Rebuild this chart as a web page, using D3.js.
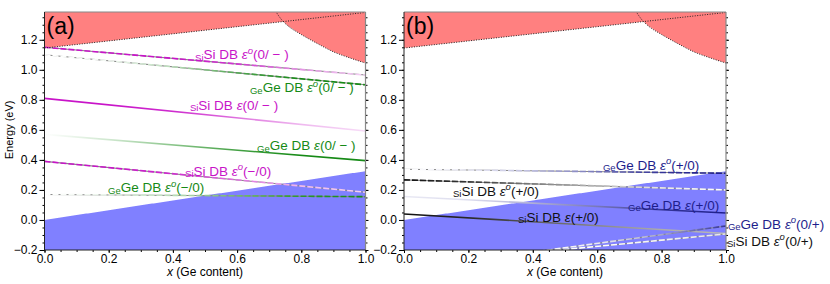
<!DOCTYPE html>
<html>
<head>
<meta charset="utf-8">
<script src="https://cdn.jsdelivr.net/npm/d3@7"></script>
<style>
  body { margin: 0; background: #fff; }
  svg { font-family: "Liberation Sans", Arial, sans-serif; }
</style>
</head>
<body>
<div id="chart"></div>
<script>
// axis ticks
const xTicks = [0, 0.2, 0.4, 0.6, 0.8, 1.0];
const yTicks = [-0.2, 0, 0.2, 0.4, 0.6, 0.8, 1.0, 1.2];

// band edges vs Ge content
const vbmX = [0, 1];
const vbmE = [0.0, 0.325];
const deltaX = [0, 1];
const deltaE = [1.145, 1.382];
const lX = [0.72, 0.74, 0.76, 0.80, 0.85, 0.90, 0.95, 1.0];
const lE = [1.39, 1.33, 1.29, 1.235, 1.175, 1.12, 1.08, 1.045];

// where along x the colour weight of each level is read
const wX = [0, 0.2, 0.4, 0.6, 0.8, 1.0];

// panel (a): acceptor-like levels
const aHost = ["Si", "Ge", "Si", "Ge", "Si", "Ge"];
const aOpt = [true, true, false, false, true, true];
const aTrans = ["(0/ \u2212 )", "(0/ \u2212 )", "(0/ \u2212 )", "(0/ \u2212 )", "(\u2212/0)", "(\u2212/0)"];
const aE0 = [1.15, 1.10, 0.81, 0.57, 0.39, 0.17];
const aE1 = [0.965, 0.90, 0.593, 0.395, 0.185, 0.155];
const aWeight = [
  [1, 1, 1, 0.85, 0.45, 0.2],
  [0, 0.05, 0.3, 0.75, 1, 1],
  [1, 1, 0.9, 0.6, 0.3, 0.15],
  [0, 0.2, 0.5, 0.8, 1, 1],
  [1, 1, 0.9, 0.6, 0.3, 0.2],
  [0, 0.1, 0.3, 0.6, 0.9, 1]
];

// panel (b): donor-like levels
const bHost = ["Ge", "Si", "Ge", "Si", "Ge", "Si"];
const bOpt = [true, true, false, false, true, true];
const bTrans = ["(+/0)", "(+/0)", "(+/0)", "(+/0)", "(0/+)", "(0/+)"];
const bE0 = [0.338, 0.267, 0.156, 0.04, -0.33, -0.30];
const bE1 = [0.311, 0.20, 0.046, -0.09, -0.04, -0.093];
const bWeight = [
  [0, 0.1, 0.3, 0.6, 0.9, 1],
  [1, 0.85, 0.55, 0.3, 0.1, 0],
  [0.1, 0.15, 0.35, 0.6, 0.9, 1],
  [1, 0.9, 0.7, 0.5, 0.35, 0.3],
  [0, 0, 0, 0.1, 0.4, 0.9],
  [0, 0, 0, 0, 0.05, 0.1]
];

// label anchors in data coordinates (x, energy)
const aLabelAt = [[0.469, 1.069], [0.64, 0.852], [0.453, 0.733], [0.662, 0.463], [0.438, 0.293], [0.198, 0.183]];
const bLabelAt = [[0.618, 0.333], [0.152, 0.16], [0.696, 0.067], [0.354, -0.011], [1.006, -0.057], [1.003, -0.172]];

const colours = { Si_a: "#c814c8", Ge_a: "#168a16", Si_b: "#111111", Ge_b: "#1e1e8c" };

const W = 830, H = 284;
const plotTop = 12, plotBottom = 250;
const svg = d3.select("#chart").append("svg").attr("width", W).attr("height", H);
const defs = svg.append("defs");

const y = d3.scaleLinear().domain([-0.2, 1.385]).range([plotBottom, plotTop]);

const panels = [
  { x0: 44.5, x1: 365.5, tag: "(a)", host: aHost, opt: aOpt, trans: aTrans, e0: aE0, e1: aE1, w: aWeight, at: aLabelAt, side: "a" },
  { x0: 404, x1: 726, tag: "(b)", host: bHost, opt: bOpt, trans: bTrans, e0: bE0, e1: bE1, w: bWeight, at: bLabelAt, side: "b" }
];

const fmt = d3.format(".1f");
const minorX = d3.range(0, 1.0001, 0.05);
const minorY = d3.range(-0.2, 1.385, 0.05);

var drawPanel = function (p, idx) {
  const x = d3.scaleLinear().domain([0, 1]).range([p.x0, p.x1]);
  const g = svg.append("g");

  defs.append("clipPath").attr("id", "clip" + idx)
    .append("rect").attr("x", p.x0).attr("y", plotTop)
    .attr("width", p.x1 - p.x0).attr("height", plotBottom - plotTop);

  const plot = g.append("g").attr("clip-path", "url(#clip" + idx + ")");

  // conduction band: region above the lower of the two minima
  const delta = d3.scaleLinear().domain(deltaX).range(deltaE);
  const lband = d3.scaleLinear().domain(lX).range(lE);
  const cbm = function (t) {
    const l = t < lX[0] ? Infinity : lband(t);
    return Math.min(delta(t), l);
  };
  const xs = d3.range(0, 1.0001, 0.005);
  plot.append("path")
    .datum(xs)
    .attr("fill", "#ff8080")
    .attr("d", d3.area().x(d => x(d)).y0(plotTop).y1(d => y(cbm(d))));

  // valence band
  const vbm = d3.scaleLinear().domain(vbmX).range(vbmE);
  plot.append("path")
    .datum(xs)
    .attr("fill", "#8080ff")
    .attr("d", d3.area().x(d => x(d)).y0(plotBottom).y1(d => y(vbm(d))));

  // defect levels, colour fades with weight
  const line = d3.line().x(d => x(d[0])).y(d => y(d[1]));
  p.e0.forEach(function (e0, i) {
    const base = colours[p.host[i] + "_" + p.side];
    const gid = "grad" + idx + "_" + i;
    const grad = defs.append("linearGradient").attr("id", gid)
      .attr("gradientUnits", "userSpaceOnUse")
      .attr("x1", x(0)).attr("x2", x(1)).attr("y1", 0).attr("y2", 0);
    wX.forEach(function (t, k) {
      grad.append("stop").attr("offset", t)
        .attr("stop-color", d3.interpolateRgb("#ffffff", base)(p.w[i][k]));
    });
    const pts = [[0, e0], [1, p.e1[i]]];
    if (p.opt[i]) {
      plot.append("path").datum(pts)
        .attr("fill", "none").attr("stroke", "#888").attr("stroke-width", 1.1)
        .attr("d", line);
    }
    plot.append("path").datum(pts)
      .attr("fill", "none")
      .attr("stroke", "url(#" + gid + ")")
      .attr("stroke-width", 1.6)
      .attr("stroke-dasharray", p.opt[i] ? "6,2" : null)
      .attr("d", line);
  });

  // band edge guides
  plot.append("path").datum(deltaX.map((t, k) => [t, deltaE[k]]))
    .attr("fill", "none").attr("stroke", "#222").attr("stroke-width", 1)
    .attr("stroke-dasharray", "1,1.5").attr("d", line);
  const curved = d3.line().x(d => x(d[0])).y(d => y(d[1])).curve(d3.curveMonotoneX);
  plot.append("path").datum(lX.map((t, k) => [t, lE[k]]))
    .attr("fill", "none").attr("stroke", "#222").attr("stroke-width", 1)
    .attr("stroke-dasharray", "1,1.5")
    .attr("d", curved);

  // labels
  p.e0.forEach(function (e0, i) {
    const base = colours[p.host[i] + "_" + p.side];
    const t = g.append("text")
      .attr("x", x(p.at[i][0])).attr("y", y(p.at[i][1]))
      .attr("fill", base).attr("font-size", 13.5);
    t.append("tspan").attr("font-size", 9.5).attr("dy", 1.5).text(p.host[i]);
    t.append("tspan").attr("dy", -1.5).text(p.host[i] + " DB ");
    t.append("tspan").attr("font-style", "italic").text("\u03b5");
    if (p.opt[i]) {
      t.append("tspan").attr("font-size", 9.5).attr("font-style", "italic").attr("dy", -5.5).text("o");
      t.append("tspan").attr("dy", 5.5).text(p.trans[i]);
    } else {
      t.append("tspan").text(p.trans[i]);
    }
  });

  // axes
  const styleAxis = function (a) {
    a.select(".domain").remove();
    a.attr("font-family", null).attr("font-size", 12);
    a.selectAll("text").attr("fill", "#000");
  };
  g.append("g").attr("transform", "translate(0," + plotBottom + ")")
    .call(d3.axisBottom(x).tickValues(xTicks).tickSize(3).tickPadding(1.5).tickFormat(fmt))
    .call(styleAxis);
  g.append("g").attr("transform", "translate(0," + plotBottom + ")")
    .call(d3.axisBottom(x).tickValues(minorX).tickSize(2).tickFormat(""))
    .call(styleAxis);
  g.append("g").attr("transform", "translate(" + p.x0 + ",0)")
    .call(d3.axisLeft(y).tickValues(yTicks).tickSize(5).tickPadding(2).tickFormat(fmt))
    .call(styleAxis);
  g.append("g").attr("transform", "translate(" + p.x0 + ",0)")
    .call(d3.axisLeft(y).tickValues(minorY).tickSize(2).tickFormat(""))
    .call(styleAxis);
  g.append("g").attr("transform", "translate(" + p.x1 + ",0)")
    .call(d3.axisRight(y).tickValues(yTicks).tickSize(3).tickFormat(""))
    .call(styleAxis);
  g.append("g").attr("transform", "translate(" + p.x1 + ",0)")
    .call(d3.axisRight(y).tickValues(minorY).tickSize(2).tickFormat(""))
    .call(styleAxis);

  // frame
  g.append("line").attr("x1", p.x0).attr("x2", p.x1).attr("y1", plotTop).attr("y2", plotTop)
    .attr("stroke", "#888").attr("stroke-width", 1.2);
  g.append("line").attr("x1", p.x1).attr("x2", p.x1).attr("y1", plotTop).attr("y2", plotBottom)
    .attr("stroke", "#888").attr("stroke-width", 1.2);
  g.append("line").attr("x1", p.x0).attr("x2", p.x0).attr("y1", plotTop).attr("y2", plotBottom)
    .attr("stroke", "#222").attr("stroke-width", 1);
  g.append("line").attr("x1", p.x0).attr("x2", p.x1).attr("y1", plotBottom).attr("y2", plotBottom)
    .attr("stroke", "#222").attr("stroke-width", 1);

  // panel tag
  g.append("text").attr("x", p.x0 + 2).attr("y", 33.5)
    .attr("font-size", 23).attr("fill", "#000").text(p.tag);

  // x title
  const xt = g.append("text").attr("x", (p.x0 + p.x1) / 2).attr("y", 276)
    .attr("text-anchor", "middle").attr("font-size", 12);
  xt.append("tspan").attr("font-style", "italic").text("x");
  xt.append("tspan").text(" (Ge content)");
};

panels.forEach(drawPanel);

svg.append("text")
  .attr("transform", "translate(13," + y(0.6) + ") rotate(-90)")
  .attr("text-anchor", "middle").attr("font-size", 11)
  .text("Energy (eV)");
</script>
</body>
</html>
